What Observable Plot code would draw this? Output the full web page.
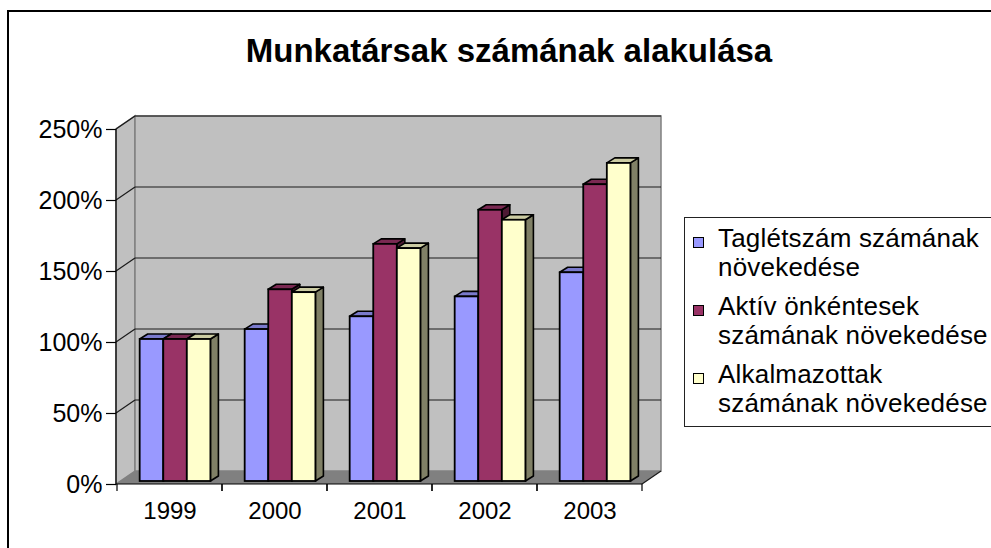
<!DOCTYPE html>
<html><head><meta charset="utf-8">
<script src="https://cdn.jsdelivr.net/npm/d3@7"></script>
<script src="https://cdn.jsdelivr.net/npm/@observablehq/plot@0.6"></script>
<style>
html,body{margin:0;padding:0;background:#fff;overflow:hidden;width:991px;height:548px;font-family:Arial,"Liberation Sans",sans-serif;}
#frame{position:absolute;left:7px;top:10px;width:1010px;height:560px;border:2px solid #000;}
#title{position:absolute;left:0;top:32px;width:1018px;text-align:center;font-weight:bold;font-size:33px;color:#000;}
#chart{position:absolute;left:0;top:0;}
#legend{position:absolute;left:684px;top:217px;width:400px;height:208px;border:1px solid #222;background:#fff;font-size:26px;letter-spacing:0.2px;color:#000;}
.item{position:absolute;left:0;}
.sw{position:absolute;left:8px;top:13px;width:9px;height:9px;border:1px solid #000;}
.tx{position:absolute;left:33px;top:0;line-height:29px;white-space:nowrap;}
</style></head>
<body>
<div id="frame"></div>
<div id="chart"></div>
<div id="title"></div>
<div id="legend"></div>
<script>
const years = ["1999", "2000", "2001", "2002", "2003"];
const tagletszam = [1.00, 1.07, 1.16, 1.30, 1.47];
const aktiv = [1.00, 1.35, 1.67, 1.91, 2.09];
const alkalmazottak = [1.00, 1.33, 1.64, 1.84, 2.24];
const seriesNames = ["Taglétszám számának növekedése", "Aktív önkéntesek számának növekedése", "Alkalmazottak számának növekedése"];
const legendLines = [["Taglétszám számának", "növekedése"], ["Aktív önkéntesek", "számának növekedése"], ["Alkalmazottak", "számának növekedése"]];
const yTicks = [0, 0.5, 1, 1.5, 2, 2.5];
const titleText = "Munkatársak számának alakulása";

const colors = ["#9999FF", "#993366", "#FFFFCC"];
const topColors = ["#7A7ACC", "#7A2952", "#CCCCA3"];
const sideColors = ["#4D4D80", "#4D1A33", "#808066"];

const seriesValues = [tagletszam, aktiv, alkalmazottak];
const table = [];
years.forEach((y, i) => seriesValues.forEach((vals, j) => table.push({year: y, series: seriesNames[j], j, value: vals[i]})));

const WALL_DX = 19, WALL_DY = -13;   // depth of the 3D walls
const BAR_DX = 8, BAR_DY = -5;       // depth of each bar
const PLANE_DY = -3;                  // bars stand slightly behind the front edge
const GROUP_OFF = 0.216, BAR_W = 0.2245;

function scene(index, scales, values, dims) {
  const sx = scales.x, sy = scales.y;
  const x0 = dims.marginLeft, x1 = dims.width - dims.marginRight;
  const bw = sx.bandwidth ? sx.bandwidth() : (x1 - x0) / years.length;
  const y0 = sy(0), yTop = sy(2.5);
  const g = d3.create("svg:g");
  const poly = (pts) => pts.map(p => p.join(",")).join(" ");
  // side wall
  g.append("polygon").attr("points", poly([[x0, y0], [x0, yTop], [x0 + WALL_DX, yTop + WALL_DY], [x0 + WALL_DX, y0 + WALL_DY]]))
    .attr("fill", "#C0C0C0").attr("stroke", "#808080").attr("stroke-width", 1.5);
  // back wall
  g.append("rect").attr("x", x0 + WALL_DX).attr("y", yTop + WALL_DY).attr("width", x1 - x0).attr("height", y0 - yTop)
    .attr("fill", "#C0C0C0").attr("stroke", "#808080").attr("stroke-width", 1.5);
  // floor
  g.append("polygon").attr("points", poly([[x0, y0], [x1, y0], [x1 + WALL_DX, y0 + WALL_DY], [x0 + WALL_DX, y0 + WALL_DY]]))
    .attr("fill", "#808080").attr("stroke", "none");
  // gridlines
  yTicks.filter(v => v > 0).forEach(v => {
    const yy = sy(v);
    g.append("line").attr("x1", x0 + WALL_DX).attr("x2", x1 + WALL_DX).attr("y1", yy + WALL_DY).attr("y2", yy + WALL_DY)
      .attr("stroke", "#1a1a1a").attr("stroke-width", 1.2);
    g.append("line").attr("x1", x0).attr("x2", x0 + WALL_DX).attr("y1", yy).attr("y2", yy + WALL_DY)
      .attr("stroke", "#1a1a1a").attr("stroke-width", 1.2);
  });
  // floor right edge
  g.append("line").attr("x1", x1).attr("y1", y0).attr("x2", x1 + WALL_DX).attr("y2", y0 + WALL_DY).attr("stroke", "#1a1a1a").attr("stroke-width", 1.2);
  // bars
  table.forEach(d => {
    const left = sx(d.year) + bw * GROUP_OFF + d.j * bw * BAR_W;
    const right = left + bw * BAR_W;
    const t = sy(d.value) + PLANE_DY, b = y0 + PLANE_DY;
    g.append("polygon").attr("points", poly([[right, t], [right + BAR_DX, t + BAR_DY], [right + BAR_DX, b + BAR_DY], [right, b]]))
      .attr("fill", sideColors[d.j]).attr("stroke", "#000").attr("stroke-width", 1.6).attr("stroke-linejoin", "round");
    g.append("polygon").attr("points", poly([[left, t], [right, t], [right + BAR_DX, t + BAR_DY], [left + BAR_DX, t + BAR_DY]]))
      .attr("fill", topColors[d.j]).attr("stroke", "#000").attr("stroke-width", 1.6).attr("stroke-linejoin", "round");
    g.append("rect").attr("x", left).attr("y", t).attr("width", right - left).attr("height", b - t)
      .attr("fill", colors[d.j]).attr("stroke", "#000").attr("stroke-width", 1.8);
  });
  // axis lines
  g.append("line").attr("x1", x0).attr("x2", x0).attr("y1", y0).attr("y2", yTop).attr("stroke", "#000").attr("stroke-width", 1.2);
  g.append("line").attr("x1", x0).attr("x2", x1).attr("y1", y0).attr("y2", y0).attr("stroke", "#000").attr("stroke-width", 1.2);
  // x ticks at category boundaries
  years.forEach(y => {
    [sx(y), sx(y) + bw].forEach(xx => g.append("line").attr("x1", xx).attr("x2", xx).attr("y1", y0).attr("y2", y0 + 7).attr("stroke", "#000").attr("stroke-width", 1.2));
  });
  return g.node();
}

const chart = Plot.plot({
  width: 991, height: 548,
  marginLeft: 116, marginRight: 349, marginTop: 129, marginBottom: 64,
  style: {fontSize: "24px", fontFamily: "Arial, 'Liberation Sans', sans-serif", color: "#000", background: "transparent", overflow: "visible"},
  x: {type: "band", domain: years, padding: 0},
  y: {domain: [0, 2.5]},
  marks: [
    scene,
    Plot.axisY({ticks: yTicks, tickFormat: d => Math.round(d * 100) + "%", tickSize: 10, tickPadding: 4, label: null, strokeWidth: 1.2, fontSize: 25}),
    Plot.axisX({tickSize: 0, tickPadding: 17, label: null, fontSize: 24})
  ]
});
document.getElementById("chart").appendChild(chart);
document.getElementById("title").textContent = titleText;

const legend = document.getElementById("legend");
legendLines.forEach((lines, j) => {
  const it = document.createElement("div");
  it.className = "item";
  it.style.top = (6 + j * 68) + "px";
  it.innerHTML = `<div class="sw" style="background:${colors[j]}"></div><div class="tx">${lines.join("<br>")}</div>`;
  legend.appendChild(it);
});
</script>
</body></html>
